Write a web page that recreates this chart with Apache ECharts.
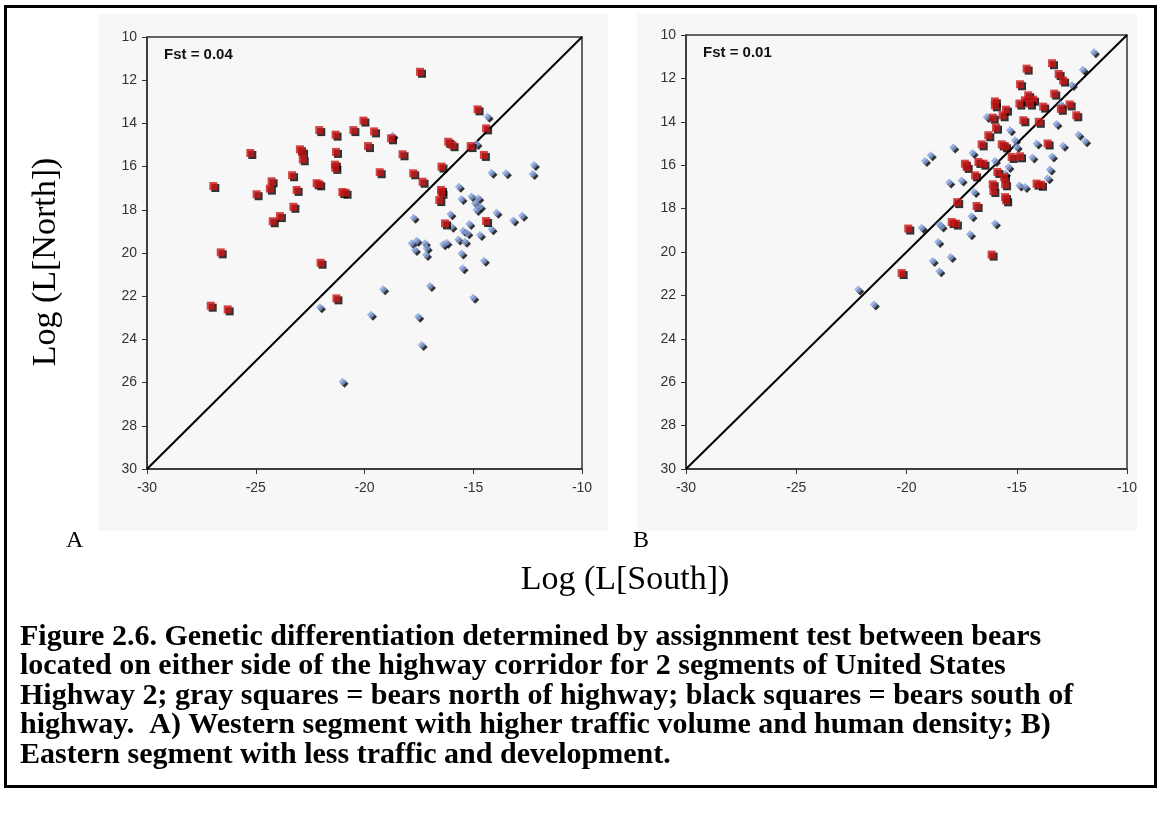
<!DOCTYPE html>
<html>
<head>
<meta charset="utf-8">
<script src="https://cdn.jsdelivr.net/npm/echarts@6/dist/echarts.min.js"></script>
<style>
  html, body { margin: 0; padding: 0; background: #ffffff; }
  #chart { width: 1161px; height: 824px; }
</style>
</head>
<body>
<div id="chart"></div>
<script>
// Log likelihood of assignment: [Log L(South), Log L(North)]
// Panel A: western segment
const westSouth = [
  [-26.95,16.90],[-26.61,19.97],[-25.25,15.37],[-24.96,17.28],[-24.27,16.68],[-24.35,17.02],
  [-24.22,18.53],[-23.89,18.29],[-23.33,16.40],[-23.12,17.08],[-23.27,17.86],[-22.97,15.20],
  [-22.87,15.31],[-22.84,15.66],[-22.08,14.31],[-22.20,16.77],[-22.08,16.82],[-22.02,20.45],
  [-21.33,14.52],[-21.31,15.32],[-21.36,15.91],[-21.34,16.06],[-21.02,17.18],[-20.87,17.21],
  [-20.51,14.31],[-20.05,13.87],[-19.56,14.37],[-19.84,15.05],[-19.30,16.26],[-18.78,14.69],
  [-27.07,22.44],[-26.29,22.61],[-21.29,22.10],[-17.45,11.61],[-14.80,13.35],[-14.41,14.23],
  [-16.15,14.85],[-15.95,15.01],[-15.12,15.05],[-14.51,15.46],[-18.25,15.43],[-16.46,16.00],
  [-17.76,16.31],[-17.33,16.70],[-16.48,17.08],[-16.46,17.21],[-16.56,17.55],[-16.30,18.63],
  [-14.41,18.52]
];
const westNorth = [
  [-22.05,22.51],[-19.70,22.86],[-21.01,25.96],[-19.14,21.68],[-14.34,13.69],[-18.71,14.57],
  [-14.85,14.95],[-14.16,16.28],[-13.50,16.31],[-12.21,15.93],[-12.27,16.34],[-15.66,16.93],
  [-15.54,17.50],[-15.08,17.39],[-14.77,17.47],[-14.92,17.70],[-14.69,17.86],[-14.85,18.01],
  [-13.93,18.14],[-16.05,18.21],[-12.75,18.28],[-17.74,18.37],[-13.16,18.50],[-15.18,18.66],
  [-16.00,18.78],[-15.46,18.97],[-15.27,19.09],[-14.69,19.17],[-14.16,18.90],[-17.83,19.55],
  [-17.60,19.43],[-17.22,19.55],[-17.14,19.78],[-17.68,19.86],[-17.17,20.09],[-16.38,19.60],
  [-16.23,19.52],[-15.69,19.37],[-15.38,19.48],[-15.54,20.02],[-14.51,20.36],[-15.49,20.71],
  [-16.99,21.53],[-15.00,22.07],[-17.53,22.95],[-17.37,24.26]
];
// Panel B: eastern segment
const eastSouth = [
  [-14.55,11.55],[-14.85,12.27],[-14.48,12.78],[-14.63,13.01],[-14.26,12.98],[-14.88,13.16],
  [-14.40,13.16],[-15.99,13.06],[-15.99,13.24],[-15.49,13.44],[-15.64,13.70],[-16.09,13.81],
  [-14.70,13.93],[-15.94,14.27],[-16.29,14.62],[-16.59,15.04],[-15.68,15.04],[-15.53,15.13],
  [-15.23,15.62],[-14.85,15.59],[-17.35,15.93],[-17.27,16.08],[-16.74,15.85],[-16.51,15.93],
  [-15.88,16.31],[-16.89,16.47],[-16.09,16.88],[-15.58,16.54],[-15.53,16.88],[-16.06,17.19],
  [-15.53,17.47],[-14.10,16.85],[-17.70,17.70],[-16.82,17.88],[-15.48,17.62],[-19.92,18.92],
  [-17.95,18.62],[-17.76,18.69],[-16.14,20.12],[-20.22,20.97],
  [-13.40,11.30],[-13.10,11.80],[-12.90,12.10],[-13.30,12.70],[-12.60,13.20],[-12.30,13.70],
  [-13.00,13.40],[-13.80,13.30],[-14.00,14.00],[-13.60,15.00],[-13.90,16.90]
];
const eastNorth = [
  [-18.90,15.54],[-19.16,15.81],[-17.88,15.19],[-17.00,15.44],[-16.36,13.78],[-15.31,14.39],
  [-15.08,14.85],[-15.00,15.16],[-15.99,15.81],[-15.38,16.08],[-15.53,16.39],[-14.29,15.65],
  [-14.10,15.00],[-18.06,16.80],[-17.50,16.70],[-14.88,16.93],[-14.63,17.00],[-16.93,17.23],
  [-17.05,18.35],[-19.31,18.88],[-18.51,18.72],[-18.41,18.82],[-15.99,18.69],[-17.12,19.18],
  [-18.56,19.54],[-18.00,20.23],[-18.81,20.41],[-18.51,20.89],[-22.19,21.73],[-21.48,22.42],
  [-11.50,10.80],[-12.00,11.60],[-12.50,12.30],[-12.20,14.60],[-11.90,14.90],[-13.20,14.10],
  [-13.40,15.60],[-13.50,16.20],[-13.60,16.60],[-12.90,15.10],[-13.00,13.20]
];
// 1:1 line (equal likelihood for either side)
const equalLine = [[-30,30],[-10,10]];
const fstValues = ['Fst = 0.04', 'Fst = 0.01'];
const panelLetters = ['A', 'B'];
const xTitle = 'Log (L[South])';
const yTitle = 'Log (L[North])';
const captionLines = [
  'Figure 2.6. Genetic differentiation determined by assignment test between bears',
  'located on either side of the highway corridor for 2 segments of United States',
  'Highway 2; gray squares = bears north of highway; black squares = bears south of',
  'highway.  A) Western segment with higher traffic volume and human density; B)',
  'Eastern segment with less traffic and development.'
];

const chart = echarts.init(document.getElementById('chart'), null, { renderer: 'canvas' });

const grids = [
  { left: 147, top: 37, width: 435, height: 432 },
  { left: 686, top: 35, width: 441, height: 434 }
];
const tickFont = '"Liberation Sans", Arial, sans-serif';

function xAxisFor(i) {
  return {
    gridIndex: i, type: 'value', min: -30, max: -10, interval: 5,
    axisLine: { lineStyle: { color: '#333', width: 1.5 } },
    axisTick: { show: true, length: 5, lineStyle: { color: '#333' } },
    axisLabel: { color: '#333', fontSize: 14, fontFamily: tickFont, margin: 12 },
    splitLine: { show: false }
  };
}
function yAxisFor(i) {
  return {
    gridIndex: i, type: 'value', min: 10, max: 30, interval: 2, inverse: true,
    axisLine: { lineStyle: { color: '#333', width: 1.5 } },
    axisTick: { show: true, length: 5, lineStyle: { color: '#333' } },
    axisLabel: { color: '#333', fontSize: 14, fontFamily: tickFont, margin: 10 },
    splitLine: { show: false }
  };
}

const shadow = { shadowColor: '#000', shadowBlur: 0, shadowOffsetX: 2, shadowOffsetY: 2 };
function southSeries(data, i) {
  return { type: 'scatter', xAxisIndex: i, yAxisIndex: i, data: data, symbol: 'rect', symbolSize: 8,
    itemStyle: Object.assign({ color: '#cc1616' }, shadow), z: 4, silent: true };
}
function northSeries(data, i) {
  return { type: 'scatter', xAxisIndex: i, yAxisIndex: i, data: data, symbol: 'diamond', symbolSize: [8, 8],
    itemStyle: Object.assign({ color: '#86a3dc' }, shadow), z: 3, silent: true };
}
function lineSeries(i) {
  return { type: 'line', xAxisIndex: i, yAxisIndex: i, data: equalLine, symbol: 'none',
    lineStyle: { color: '#000', width: 2 }, z: 2, silent: true };
}

const serif = '"Liberation Serif", "Times New Roman", serif';
const graphics = [
  { type: 'rect', shape: { x: 98, y: 14, width: 510, height: 517 }, style: { fill: '#f7f7f7' }, z: -10 },
  { type: 'rect', shape: { x: 637, y: 14, width: 500, height: 517 }, style: { fill: '#f7f7f7' }, z: -10 },
  { type: 'rect', shape: { x: 5.5, y: 6.5, width: 1150, height: 780 }, style: { fill: null, stroke: '#000', lineWidth: 3 }, z: 10 },
  { type: 'text', x: 164, y: 55, style: { text: fstValues[0], font: 'bold 15px "Liberation Sans", Arial, sans-serif', fill: '#111', verticalAlign: 'middle' } },
  { type: 'text', x: 703, y: 53, style: { text: fstValues[1], font: 'bold 15px "Liberation Sans", Arial, sans-serif', fill: '#111', verticalAlign: 'middle' } },
  { type: 'text', x: 66, y: 541, style: { text: panelLetters[0], font: '24px ' + serif, fill: '#000', verticalAlign: 'middle' } },
  { type: 'text', x: 633, y: 541, style: { text: panelLetters[1], font: '24px ' + serif, fill: '#000', verticalAlign: 'middle' } },
  { type: 'text', x: 625, y: 580, style: { text: xTitle, font: '34px ' + serif, fill: '#000', align: 'center', verticalAlign: 'middle' } },
  { type: 'text', x: 46, y: 262, rotation: Math.PI / 2, style: { text: yTitle, font: '34px ' + serif, fill: '#000', align: 'center', verticalAlign: 'middle' } }
];
captionLines.forEach(function (line, k) {
  graphics.push({ type: 'text', x: 20, y: 637 + k * 29.5,
    style: { text: line, font: 'bold 30px ' + serif, fill: '#000', verticalAlign: 'middle' } });
});

chart.setOption({
  animation: false,
  backgroundColor: '#ffffff',
  grid: grids.map(function (g) {
    return Object.assign({ show: true, borderColor: '#333', borderWidth: 1.5, backgroundColor: 'transparent' }, g);
  }),
  xAxis: [xAxisFor(0), xAxisFor(1)],
  yAxis: [yAxisFor(0), yAxisFor(1)],
  series: [
    lineSeries(0), northSeries(westNorth, 0), southSeries(westSouth, 0),
    lineSeries(1), northSeries(eastNorth, 1), southSeries(eastSouth, 1)
  ],
  graphic: graphics
});
</script>
</body>
</html>
